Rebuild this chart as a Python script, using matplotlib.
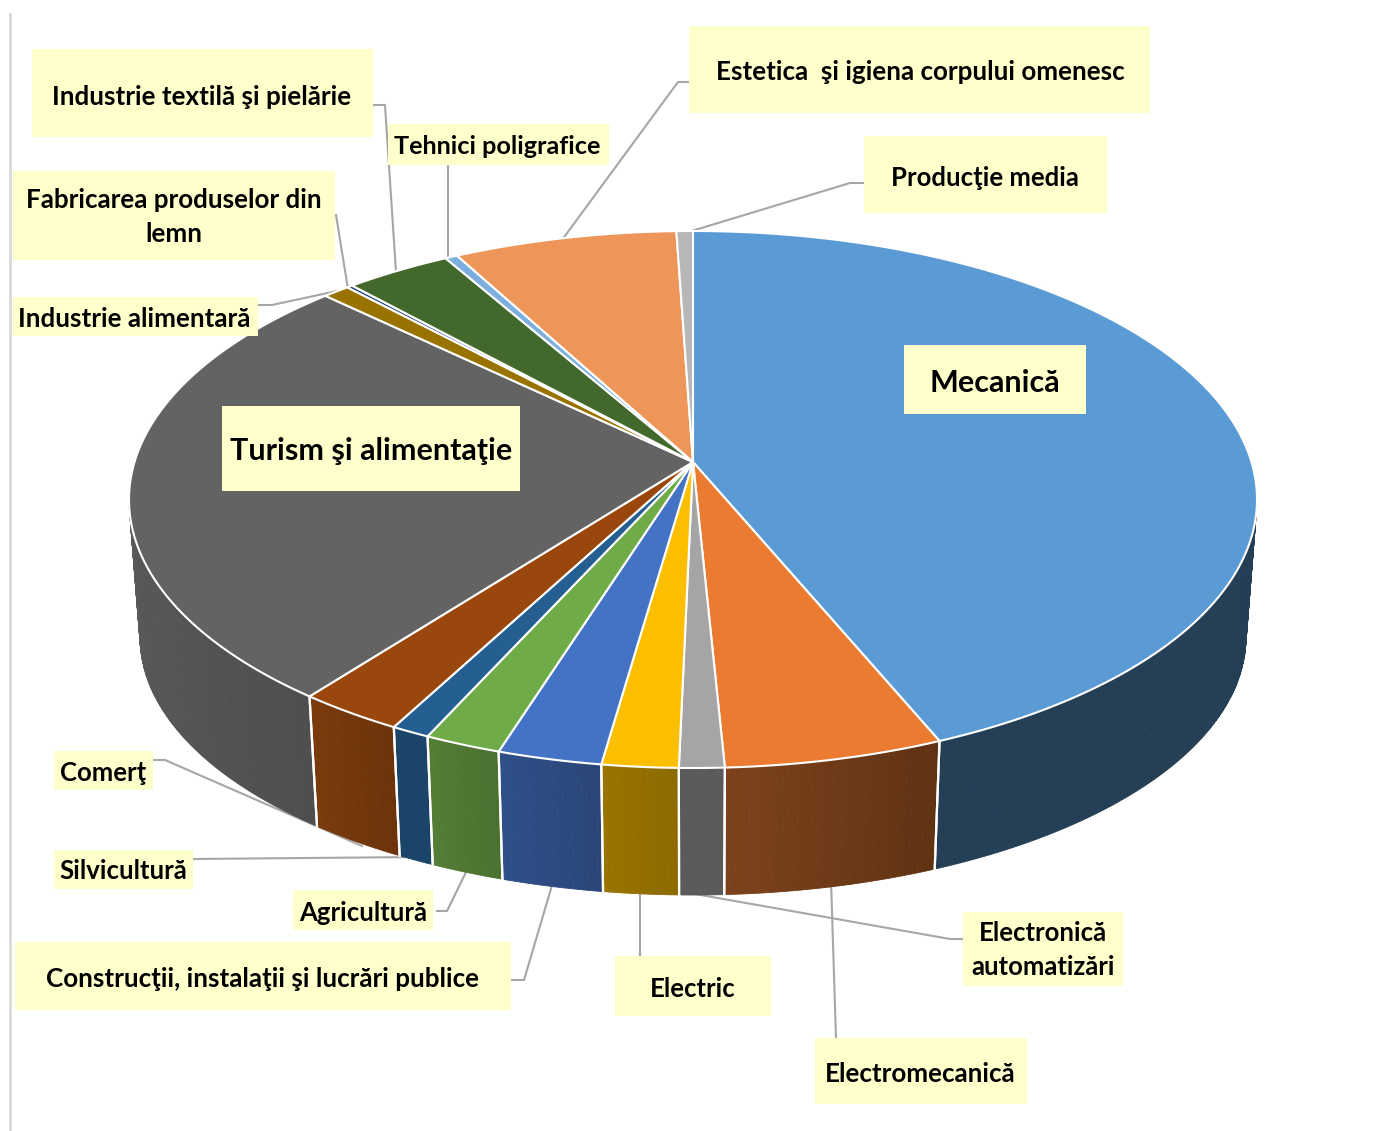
# 3D looking pie chart of students by domain, drawn on a pixel sized axes
import numpy as np
import matplotlib
matplotlib.use("Agg")
import matplotlib.pyplot as plt
from matplotlib.patches import Rectangle
from matplotlib.colors import to_rgb

# share of each domain, clockwise from the top of the pie
domains = ["Mecanică", "Electromecanică", "Electronică automatizări", "Electric",
           "Construcţii, instalaţii şi lucrări publice", "Agricultură", "Silvicultură",
           "Comerţ", "Turism şi alimentaţie", "Industrie alimentară",
           "Fabricarea produselor din lemn", "Industrie textilă şi pielărie",
           "Tehnici poligrafice", "Estetica  şi igiena corpului omenesc", "Producţie media"]
shares = [42.8, 6.3, 1.3, 2.2, 3.0, 2.2, 1.1, 3.0, 26.8, 0.8, 0.17, 3.1, 0.36, 6.4, 0.47]

top_colors = ["#5b9bd5", "#ea7b30", "#a5a5a5", "#fcbf00", "#4472c4", "#6fac47", "#255e91", "#9a470d",
              "#636363", "#997300", "#264478", "#43682b", "#7cafdd", "#ee9559", "#b7b7b7"]
side_left = ["#243f55", "#7d421c", "#5a5a5a", "#9a7400", "#2f4f8a", "#547d35", "#1a4468", "#7a3a0c",
             "#5a5a5a", "#7a5c00", "#1e3660", "#365322", "#638cb1", "#c17948", "#929292"]
side_right = ["#243f55", "#5f3212", "#5a5a5a", "#8c6a00", "#2a4577", "#4a7130", "#1a4468", "#6c330b",
              "#4e4e4e", "#7a5c00", "#1e3660", "#365322", "#638cb1", "#c17948", "#929292"]

# pie geometry in pixels
apex = (693, 462)
top_c = (693, 499.5)
top_a, top_b = 564, 268.5
bot_c = (693, 637)
bot_a, bot_b = 553, 258

fig = plt.figure(figsize=(13.85, 11.31), dpi=100)
ax = fig.add_axes([0, 0, 1, 1])
ax.set_xlim(0, 1385)
ax.set_ylim(1131, 0)
ax.axis("off")
plt.rcParams["font.family"] = ["Lato", "DejaVu Sans"]


def rim(theta, c, a, b):
    # theta in degrees clockwise from the back of the pie
    t = np.radians(theta)
    return c[0] + a * np.sin(t), c[1] - b * np.cos(t)


# left border of the picture
ax.plot([10, 10], [14, 1131], color="#d9d9d9", lw=2, zorder=1)

edges = np.concatenate([[0], np.cumsum(shares)]) / np.sum(shares) * 360

# side wall, only the front half can be seen
for i in range(len(shares)):
    t0 = max(edges[i], 90)
    t1 = min(edges[i + 1], 270)
    if t1 <= t0:
        continue
    cl = np.array(to_rgb(side_left[i]))
    cr = np.array(to_rgb(side_right[i]))
    steps = max(int((t1 - t0) * 2), 2)
    ts = np.linspace(t0, t1, steps + 1)
    # clockwise on the front means going right to left
    for k in range(steps):
        f = (k + 0.5) / steps
        col = cr * (1 - f) + cl * f
        tt = np.linspace(ts[k], ts[k + 1], 3)
        xa, ya = rim(tt, top_c, top_a, top_b)
        xb, yb = rim(tt[::-1], bot_c, bot_a, bot_b)
        ax.fill(np.r_[xa, xb], np.r_[ya, yb], color=col, lw=0.6, zorder=2)
    for t in (t0, t1):
        if 90 < t < 270:
            xa, ya = rim(t, top_c, top_a, top_b)
            xb, yb = rim(t, bot_c, bot_a, bot_b)
            ax.plot([xa, xb], [ya, yb], color="white", lw=1.6, zorder=3)

# top face
for i in range(len(shares)):
    tt = np.linspace(edges[i], edges[i + 1], max(int(edges[i + 1] - edges[i]) * 3, 4))
    x, y = rim(tt, top_c, top_a, top_b)
    ax.fill(np.r_[apex[0], x], np.r_[apex[1], y], facecolor=top_colors[i], edgecolor="white",
            lw=1.5, joinstyle="round", zorder=4)

# leader lines from the label boxes, they go behind the pie
leaders = [
    [(373, 105), (385, 105), (396, 272)],
    [(448, 165), (448, 260)],
    [(689, 82), (678, 82), (562, 240)],
    [(864, 183), (850, 183), (685, 233)],
    [(336, 215), (348, 289)],
    [(258, 305), (272, 305), (337, 291)],
    [(153, 760), (165, 760), (362, 846)],
    [(193, 859), (420, 857)],
    [(437, 911), (447, 911), (468, 868)],
    [(511, 980), (524, 980), (553, 882)],
    [(640, 956), (640, 890)],
    [(963, 939), (950, 939), (695, 894)],
    [(836, 1038), (831, 880)],
]
for pts in leaders:
    ax.plot([p[0] for p in pts], [p[1] for p in pts], color="#a6a6a6", lw=1.5, zorder=1)

# label boxes: text, x0, y0, x1, y1, text x, text y, font size
labels = [
    ("Mecanică", 904, 345, 1086, 414, 995, 383, 22),
    ("Turism şi alimentaţie", 222, 406, 520, 491, 371, 451, 22),
    ("Industrie textilă şi pielărie", 32, 49, 373, 137, 202, 97, 18.7),
    ("Tehnici poligrafice", 388, 124, 609, 165, 497, 147, 18.2),
    ("Estetica  şi igiena corpului omenesc", 689, 26, 1150, 113, 920, 72, 18.7),
    ("Producţie media", 864, 136, 1107, 213, 985, 178, 18.5),
    ("Fabricarea produselor din\nlemn", 13, 171, 335, 260, 174, 217, 18.7),
    ("Industrie alimentară", 13, 297, 258, 336, 134, 319, 18.7),
    ("Comerţ", 54, 751, 153, 790, 103, 773, 18.5),
    ("Silvicultură", 54, 850, 193, 889, 123, 871, 18.5),
    ("Agricultură", 293, 890, 433, 930, 363, 913, 18.5),
    ("Construcţii, instalaţii şi lucrări publice", 15, 942, 511, 1010, 263, 979, 18.7),
    ("Electric", 615, 956, 771, 1016, 693, 989, 18.5),
    ("Electronică\nautomatizări", 963, 912, 1123, 986, 1043, 950, 18.5),
    ("Electromecanică", 815, 1038, 1027, 1104, 920, 1074, 18.7),
]
for txt, x0, y0, x1, y1, tx, ty, fs in labels:
    ax.add_patch(Rectangle((x0, y0), x1 - x0, y1 - y0, facecolor="#ffffcc", edgecolor="none", zorder=6))
    ax.text(tx, ty, txt, ha="center", va="center", fontsize=fs, fontweight="bold", color="black",
            linespacing=1.5, zorder=7)

fig.savefig("out.png", dpi=100)
